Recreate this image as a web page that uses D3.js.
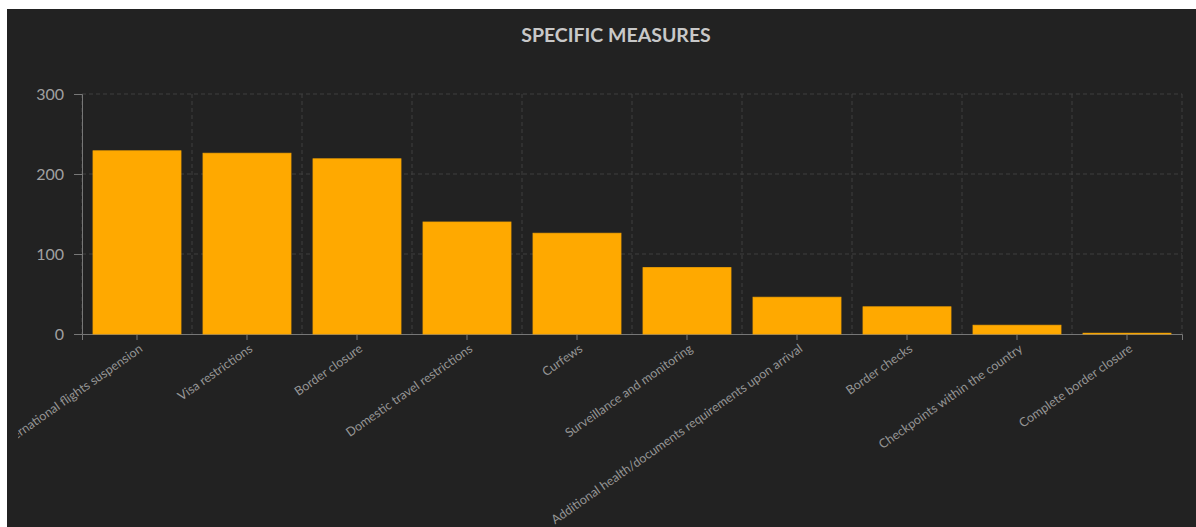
<!DOCTYPE html>
<html>
<head>
<meta charset="utf-8">
<script src="https://cdn.jsdelivr.net/npm/d3@7"></script>
<style>
  body { margin: 0; background: #fff; }
  svg { display: block; }
</style>
</head>
<body>
<script>
const categories = [
    "International flights suspension", "Visa restrictions", "Border closure",
    "Domestic travel restrictions", "Curfews", "Surveillance and monitoring",
    "Additional health/documents requirements upon arrival", "Border checks",
    "Checkpoints within the country", "Complete border closure"
];
const counts = [229, 226, 219, 140, 126, 83, 46, 34, 11, 1];
const yTicks = [0, 100, 200, 300];

const width  = 1196;
const height = 527;
const margin = {top: 94, right: 14, bottom: 193, left: 82};
const font = "Lato, 'Open Sans', sans-serif";

const svg = d3.select("body")
    .append("svg")
    .attr("width", width)
    .attr("height", height);

// dark panel, offset a little like the screenshot
svg.append("rect")
    .attr("x", 7).attr("y", 9)
    .attr("width", width - 7).attr("height", height - 9)
    .style("fill", "#222222");

const x = d3.scaleBand()
    .domain(categories)
    .range([margin.left, width - margin.right])
    .paddingInner(0.2)
    .paddingOuter(0.1);

const y = d3.scaleLinear()
    .domain([0, 300])
    .range([height - margin.bottom, margin.top]);

svg.append("text")
    .attr("x", 616)
    .attr("y", 42)
    .attr("text-anchor", "middle")
    .style("font-family", font)
    .style("font-weight", "bold")
    .style("font-size", "19.5px")
    .style("fill", "#c8c8c8")
    .text("SPECIFIC MEASURES");

// grid
const step = x.step();
svg.selectAll("line.vgrid")
    .data(d3.range(categories.length + 1))
  .enter().append("line")
    .attr("class", "vgrid")
    .attr("x1", i => margin.left + i * step)
    .attr("x2", i => margin.left + i * step)
    .attr("y1", y(300)).attr("y2", y(0))
    .style("stroke", "#3e3e3e")
    .style("stroke-dasharray", "4,3");

svg.selectAll("line.hgrid")
    .data(yTicks.filter(d => d > 0))
  .enter().append("line")
    .attr("class", "hgrid")
    .attr("x1", margin.left).attr("x2", width - margin.right)
    .attr("y1", d => y(d)).attr("y2", d => y(d))
    .style("stroke", "#3e3e3e")
    .style("stroke-dasharray", "4,3");

// y axis
const yAxis = svg.append("g")
    .attr("transform", `translate(${margin.left},0)`)
    .call(d3.axisLeft(y).tickValues(yTicks).tickSize(8).tickPadding(10));
yAxis.selectAll("text")
    .style("font-family", font)
    .style("font-size", "16px")
    .style("fill", "#a0a0a0");

// x axis (first label is cut at the panel edge, as in the original)
svg.append("clipPath").attr("id", "clip")
  .append("rect").attr("x", 18).attr("y", 0).attr("width", width).attr("height", height);

const xAxis = svg.append("g")
    .attr("transform", `translate(0,${y(0)})`)
    .attr("clip-path", "url(#clip)")
    .call(d3.axisBottom(x).tickSizeOuter(0).tickSize(6).tickPadding(4));
xAxis.selectAll("text")
    .style("font-family", font)
    .style("font-size", "12.5px")
    .style("fill", "#959595")
    .attr("text-anchor", "end")
    .attr("dy", "0.35em")
    .attr("transform", "translate(4,13) rotate(-35)")
    .attr("y", 0).attr("x", 0);

svg.selectAll(".domain, .tick line")
    .style("stroke", "#777");

// bars on top of the axis line so the tiny last bar shows
svg.selectAll("rect.bar")
    .data(categories)
  .enter().append("rect")
    .attr("class", "bar")
    .attr("x", d => x(d))
    .attr("y", (d, i) => y(counts[i]))
    .attr("width", x.bandwidth())
    .attr("height", (d, i) => y(0) - y(counts[i]))
    .style("fill", "#ffa900")
    .style("stroke", "#f5a300")
    .style("stroke-width", 0.8);
</script>
</body>
</html>
